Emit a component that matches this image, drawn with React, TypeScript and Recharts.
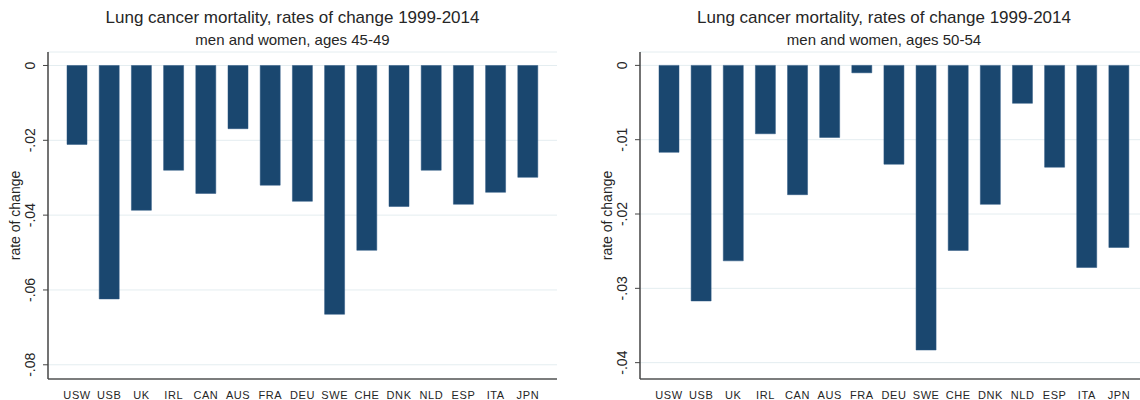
import React from 'react';
import { BarChart, Bar, XAxis, YAxis, CartesianGrid, Label } from 'recharts';

const countries = ['USW', 'USB', 'UK', 'IRL', 'CAN', 'AUS', 'FRA', 'DEU', 'SWE', 'CHE', 'DNK', 'NLD', 'ESP', 'ITA', 'JPN'];

// rates of change, ages 45-49
const rates4549 = [-0.0211, -0.0624, -0.0387, -0.028, -0.0342, -0.0169, -0.032, -0.0363, -0.0665, -0.0494, -0.0377, -0.028, -0.0371, -0.0339, -0.0299];
// rates of change, ages 50-54
const rates5054 = [-0.0117, -0.0317, -0.0263, -0.0092, -0.0174, -0.0097, -0.001, -0.0133, -0.0383, -0.0249, -0.0187, -0.0051, -0.0137, -0.0272, -0.0245];

const ticks4549 = [0, -0.02, -0.04, -0.06, -0.08];
const ticks5054 = [0, -0.01, -0.02, -0.03, -0.04];

const FONT = "'Liberation Sans', Arial, sans-serif";
const NAVY = '#1a476f';
const TXT = '#262626';

const fmt = (v: number) => (v === 0 ? '0' : v.toFixed(2).replace('0.', '.'));

const YTick = (props: any) => {
  const { x, y, payload } = props;
  return (
    <text x={x} y={y} dy="0.35em" textAnchor="middle" transform={`rotate(-90, ${x}, ${y})`}
      fontSize={14} fill={TXT} fontFamily={FONT}>
      {fmt(payload.value)}
    </text>
  );
};

const XTick = (props: any) => {
  const { x, y, payload } = props;
  return (
    <text x={x} y={y} dy={12} textAnchor="middle" fontSize={11} letterSpacing={0.6}
      fill={TXT} fontFamily={FONT}>
      {payload.value}
    </text>
  );
};

const YTitle = (props: any) => {
  const vb = props.viewBox || {};
  const x = (vb.x || 0) + 15;
  const y = (vb.y || 0) + (vb.height || 0) / 2;
  return (
    <text x={x} y={y} dy="0.35em" textAnchor="middle" transform={`rotate(-90, ${x}, ${y})`}
      fontSize={14} fill={TXT} fontFamily={FONT}>
      rate of change
    </text>
  );
};

interface PanelProps {
  left: number;
  values: number[];
  ticks: number[];
  domain: [number, number];
  subtitle: string;
  rightMargin: number;
}

const Panel = ({ left, values, ticks, domain, subtitle, rightMargin }: PanelProps) => {
  const data = countries.map((c, i) => ({ country: c, rate: values[i] }));
  const width = 570;
  const plotLeft = 48;
  const plotW = width - plotLeft - rightMargin;
  return (
    <div style={{ position: 'absolute', left, top: 0, width, height: 400 }}>
      <div style={{ position: 'absolute', left: plotLeft - 10, top: 7, width: plotW, textAlign: 'center',
        fontFamily: FONT, fontSize: 17, lineHeight: '21px', color: TXT, whiteSpace: 'nowrap' }}>
        Lung cancer mortality, rates of change 1999-2014
      </div>
      <div style={{ position: 'absolute', left: plotLeft - 10, top: 30, width: plotW, textAlign: 'center',
        fontFamily: FONT, fontSize: 15, lineHeight: '19px', color: TXT, whiteSpace: 'nowrap' }}>
        {subtitle}
      </div>
      <BarChart width={width} height={400} data={data}
        margin={{ top: 52, right: rightMargin, bottom: 1, left: 0 }} barSize={20}>
        <CartesianGrid vertical={false} stroke="#e4edf0" strokeWidth={1} />
        <XAxis dataKey="country" tickLine={false} axisLine={{ stroke: '#555', strokeWidth: 1.5 }}
          height={20} padding={{ left: 13, right: 13 }} tick={<XTick />} interval={0} />
        <YAxis type="number" domain={domain} ticks={ticks} allowDataOverflow width={48}
          axisLine={{ stroke: '#444', strokeWidth: 1.5 }} tickLine={{ stroke: '#444' }}
          tickSize={5} tickMargin={13} tick={<YTick />}>
          <Label content={<YTitle />} />
        </YAxis>
        <Bar dataKey="rate" fill={NAVY} stroke="#2b5680" strokeWidth={0.5} isAnimationActive={false} />
      </BarChart>
    </div>
  );
};

export default function App() {
  return (
    <div style={{ position: 'absolute', left: 0, top: 0, width: 1140, height: 400, overflow: 'hidden', background: '#fff' }}>
      <Panel left={0} values={rates4549} ticks={ticks4549} domain={[-0.0838, 0.0036]}
        subtitle="men and women, ages 45-49" rightMargin={13} />
      <Panel left={592} values={rates5054} ticks={ticks5054} domain={[-0.0422, 0.0018]}
        subtitle="men and women, ages 50-54" rightMargin={14} />
    </div>
  );
}
